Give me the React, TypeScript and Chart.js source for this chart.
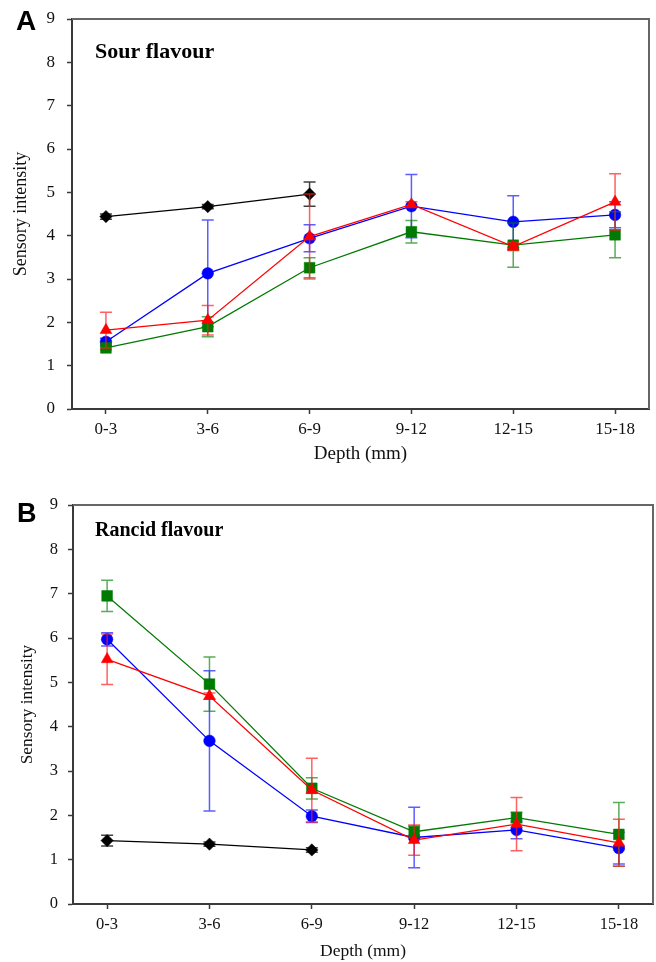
import React, { useEffect, useRef } from "react";
import { Chart, registerables } from "chart.js";

Chart.register(...registerables);

// ---------- data ----------
const depthLabels = ["0-3", "3-6", "6-9", "9-12", "12-15", "15-18"];
const yTickValues = [0, 1, 2, 3, 4, 5, 6, 7, 8, 9];

// Panel A: Sour flavour
const sourBlack = [4.44, 4.67, 4.96];
const sourBlackErr = [0.06, 0.05, 0.28];
const sourBlue = [1.55, 3.13, 3.94, 4.68, 4.32, 4.48];
const sourBlueErr = [0.08, 1.23, 0.31, 0.73, 0.6, 0.3];
const sourRed = [1.82, 2.05, 3.98, 4.72, 3.75, 4.78];
const sourRedErr = [0.41, 0.34, 0.98, 0.06, 0.09, 0.65];
const sourGreen = [1.41, 1.9, 3.26, 4.09, 3.78, 4.02];
const sourGreenErr = [0.05, 0.23, 0.23, 0.26, 0.51, 0.53];

// Panel B: Rancid flavour
const rancidBlack = [1.43, 1.35, 1.22];
const rancidBlackErr = [0.12, 0.05, 0.05];
const rancidBlue = [5.97, 3.68, 1.98, 1.5, 1.67, 1.26];
const rancidBlueErr = [0.15, 1.58, 0.14, 0.68, 0.2, 0.36];
const rancidRed = [5.52, 4.69, 2.57, 1.44, 1.8, 1.38];
const rancidRedErr = [0.57, 0.07, 0.72, 0.34, 0.6, 0.53];
const rancidGreen = [6.95, 4.96, 2.61, 1.63, 1.95, 1.57];
const rancidGreenErr = [0.35, 0.61, 0.24, 0.13, 0.12, 0.72];

// ---------- styles ----------
const SERIF = '"Liberation Serif", "Times New Roman", serif';
const SANS = '"Liberation Sans", Arial, sans-serif';

const seriesStyles = {
  black: { color: "#000000", err: "rgba(0,0,0,0.75)", pointStyle: "rectRot", radius: 6.2, order: 3 },
  blue: { color: "#0000ff", err: "rgba(40,40,255,0.75)", pointStyle: "circle", radius: 5.8, order: 2 },
  green: { color: "#007a00", err: "rgba(0,128,0,0.65)", pointStyle: "rect", radius: 7.6, order: 1 },
  red: { color: "#ff0000", err: "rgba(255,30,30,0.7)", pointStyle: "triangle", radius: 6.8, order: 0 },
};

type SeriesKey = keyof typeof seriesStyles;

function makeDataset(key: SeriesKey, values: number[], errs: number[]) {
  const s = seriesStyles[key];
  return {
    label: key,
    data: values.map((y, i) => ({ x: i, y })),
    errorBars: errs,
    errorColor: s.err,
    borderColor: s.color,
    backgroundColor: s.color,
    borderWidth: 1.3,
    pointStyle: s.pointStyle,
    pointRadius: s.radius,
    pointBackgroundColor: s.color,
    pointBorderColor: s.color,
    pointBorderWidth: 0.5,
    tension: 0,
    order: s.order,
  };
}

const errorBarPlugin = {
  id: "errorBars",
  beforeDatasetDraw(chart: any, args: any) {
    const ds = chart.data.datasets[args.index];
    const errs: number[] | undefined = ds.errorBars;
    if (!errs) return;
    const { ctx } = chart;
    const xs = chart.scales.x;
    const ys = chart.scales.y;
    const cap = 6;
    ctx.save();
    ctx.strokeStyle = ds.errorColor;
    ctx.lineWidth = 1.5;
    ds.data.forEach((pt: any, i: number) => {
      const e = errs[i];
      if (e == null) return;
      const px = xs.getPixelForValue(pt.x);
      const top = ys.getPixelForValue(pt.y + e);
      const bot = ys.getPixelForValue(pt.y - e);
      ctx.beginPath();
      ctx.moveTo(px, top);
      ctx.lineTo(px, bot);
      ctx.moveTo(px - cap, top);
      ctx.lineTo(px + cap, top);
      ctx.moveTo(px - cap, bot);
      ctx.lineTo(px + cap, bot);
      ctx.stroke();
    });
    ctx.restore();
  },
};

const decorPlugin = {
  id: "decor",
  afterDraw(chart: any, _args: any, opts: any) {
    const { ctx, chartArea: a } = chart;
    ctx.save();
    ctx.strokeStyle = "#666666";
    ctx.lineWidth = 2;
    ctx.beginPath();
    ctx.moveTo(a.left, a.top);
    ctx.lineTo(a.right, a.top);
    ctx.lineTo(a.right, a.bottom);
    ctx.stroke();
    ctx.fillStyle = "#000000";
    ctx.textAlign = "left";
    ctx.textBaseline = "alphabetic";
    ctx.font = `bold ${opts.letterSize}px ${SANS}`;
    ctx.fillText(opts.letter, opts.letterX, opts.letterY);
    ctx.font = `bold ${opts.titleSize}px ${SERIF}`;
    ctx.fillText(opts.title, opts.titleX, opts.titleY);
    ctx.restore();
  },
};

interface PanelCfg {
  height: number;
  chartLeft: number;
  padTop: number;
  padRight: number;
  xAxisHeight: number;
  yTickSize: number;
  yTickPad: number;
  yTitleSize: number;
  yTitlePad: number;
  xTickSize: number;
  xTickPad: number;
  xTitleSize: number;
  xTitlePad: number;
  letter: string;
  letterSize: number;
  letterX: number;
  letterY: number;
  title: string;
  titleSize: number;
  titleX: number;
  titleY: number;
  datasets: any[];
}

const panelA: PanelCfg = {
  height: 480,
  chartLeft: 72,
  padTop: 19,
  padRight: 7,
  xAxisHeight: 71,
  yTickSize: 17,
  yTickPad: 12,
  yTitleSize: 18,
  yTitlePad: 10,
  xTickSize: 17,
  xTickPad: 5,
  xTitleSize: 19,
  xTitlePad: 14.6,
  letter: "A",
  letterSize: 28,
  letterX: 16,
  letterY: 30,
  title: "Sour flavour",
  titleSize: 22,
  titleX: 95,
  titleY: 58,
  datasets: [
    makeDataset("red", sourRed, sourRedErr),
    makeDataset("green", sourGreen, sourGreenErr),
    makeDataset("blue", sourBlue, sourBlueErr),
    makeDataset("black", sourBlack, sourBlackErr),
  ],
};

const panelB: PanelCfg = {
  height: 482,
  chartLeft: 73,
  padTop: 25,
  padRight: 3,
  xAxisHeight: 58,
  yTickSize: 16.5,
  yTickPad: 10,
  yTitleSize: 17.3,
  yTitlePad: 16.6,
  xTickSize: 16.5,
  xTickPad: 5.4,
  xTitleSize: 17.5,
  xTitlePad: 0,
  letter: "B",
  letterSize: 27,
  letterX: 17,
  letterY: 42,
  title: "Rancid flavour",
  titleSize: 20,
  titleX: 95,
  titleY: 56,
  datasets: [
    makeDataset("red", rancidRed, rancidRedErr),
    makeDataset("green", rancidGreen, rancidGreenErr),
    makeDataset("blue", rancidBlue, rancidBlueErr),
    makeDataset("black", rancidBlack, rancidBlackErr),
  ],
};

function Panel({ cfg }: { cfg: PanelCfg }) {
  const ref = useRef<HTMLCanvasElement | null>(null);
  useEffect(() => {
    if (!ref.current) return;
    const axisColor = "#3a3a3a";
    const chart = new Chart(ref.current, {
      type: "line",
      data: { datasets: cfg.datasets },
      plugins: [errorBarPlugin, decorPlugin],
      options: {
        responsive: false,
        animation: false,
        devicePixelRatio: 1,
        layout: {
          autoPadding: false,
          padding: { left: 0, top: cfg.padTop, right: cfg.padRight, bottom: 0 },
        },
        plugins: {
          legend: { display: false },
          tooltip: { enabled: false },
          decor: {
            letter: cfg.letter,
            letterSize: cfg.letterSize,
            letterX: cfg.letterX,
            letterY: cfg.letterY,
            title: cfg.title,
            titleSize: cfg.titleSize,
            titleX: cfg.titleX,
            titleY: cfg.titleY,
          },
        } as any,
        scales: {
          x: {
            type: "linear",
            min: -1 / 3,
            max: depthLabels.length - 1 + 1 / 3,
            afterBuildTicks: (scale: any) => {
              scale.ticks = depthLabels.map((_, i) => ({ value: i }));
            },
            afterFit: (scale: any) => {
              scale.height = cfg.xAxisHeight;
              scale.paddingLeft = 0;
              scale.paddingRight = 0;
            },
            ticks: {
              autoSkip: false,
              maxRotation: 0,
              padding: cfg.xTickPad,
              color: "#111",
              font: { family: SERIF, size: cfg.xTickSize },
              callback: (v: any) => depthLabels[Math.round(Number(v))] ?? "",
            },
            grid: {
              display: true,
              drawOnChartArea: false,
              drawTicks: true,
              tickLength: 5,
              tickWidth: 1.5,
              color: axisColor,
            },
            border: { display: true, color: axisColor, width: 2 },
            title: {
              display: true,
              text: "Depth (mm)",
              color: "#111",
              font: { family: SERIF, size: cfg.xTitleSize },
              padding: { top: 0, bottom: cfg.xTitlePad },
            },
          },
          y: {
            type: "linear",
            min: 0,
            max: 9,
            afterBuildTicks: (scale: any) => {
              scale.ticks = yTickValues.map((v) => ({ value: v }));
            },
            afterFit: (scale: any) => {
              scale.width = cfg.chartLeft;
              scale.paddingTop = 0;
              scale.paddingBottom = 0;
            },
            ticks: {
              padding: cfg.yTickPad,
              color: "#111",
              font: { family: SERIF, size: cfg.yTickSize },
              callback: (v: any) => String(v),
            },
            grid: {
              display: true,
              drawOnChartArea: false,
              drawTicks: true,
              tickLength: 5,
              tickWidth: 1.5,
              color: axisColor,
            },
            border: { display: true, color: axisColor, width: 2 },
            title: {
              display: true,
              text: "Sensory intensity",
              color: "#111",
              font: { family: SERIF, size: cfg.yTitleSize },
              padding: { top: cfg.yTitlePad, bottom: 0 },
            },
          },
        },
      } as any,
    });
    return () => chart.destroy();
  }, [cfg]);
  return (
    <canvas
      ref={ref}
      width={656}
      height={cfg.height}
      style={{ display: "block", width: 656, height: cfg.height }}
    />
  );
}

export default function App() {
  return (
    <div style={{ position: "absolute", left: 0, top: 0, width: 656, height: 962, background: "#fff" }}>
      <Panel cfg={panelA} />
      <Panel cfg={panelB} />
    </div>
  );
}
